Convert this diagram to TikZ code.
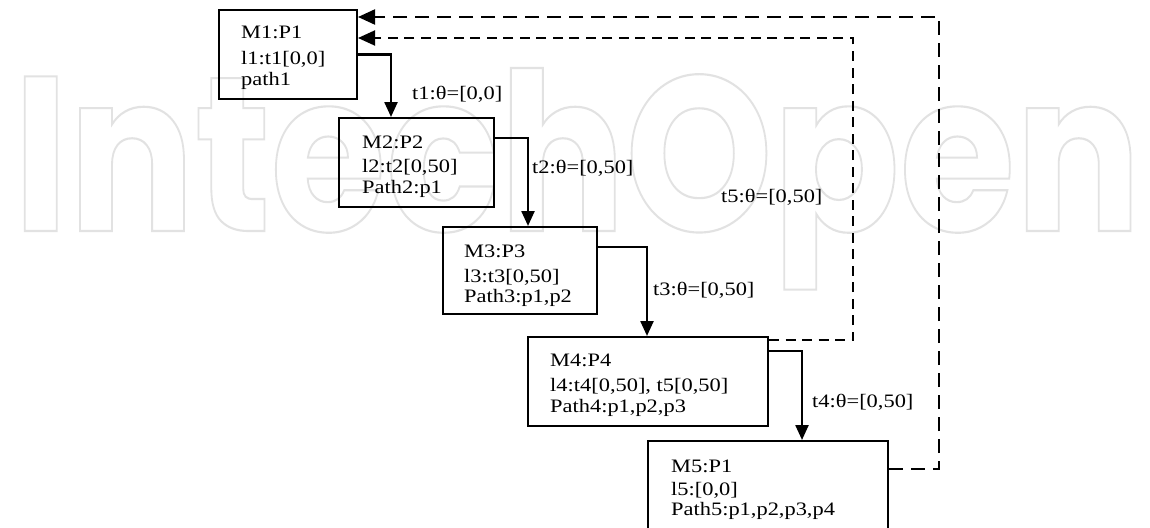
\documentclass[tikz,border=0pt]{standalone}
\usepackage{fontspec}
\setmainfont[FakeStretch=1.18]{Liberation Serif}
\newfontfamily\wmfont{Poppins}
\usetikzlibrary{arrows.meta}
\definecolor{wmgray}{HTML}{E2E2E2}
\begin{document}
\begin{tikzpicture}[x=1pt,y=-1pt,
  box/.style={draw, line width=2pt, rectangle, inner sep=0pt, anchor=north west},
  ln/.style={anchor=base west, inner sep=0pt, font=\fontsize{19}{22}\selectfont},
  conn/.style={line width=2.4pt, -{Triangle[length=15pt,width=13pt]}},
  dashouter/.style={line width=2.1pt, dash pattern=on 14pt off 8pt, -{Triangle[length=17pt,width=15pt]}},
  dashinner/.style={line width=1.9pt, dash pattern=on 10pt off 6.5pt, -{Triangle[length=17pt,width=15pt]}}]
\clip (0,0) rectangle (1150,527);
\fill[white] (0,0) rectangle (1150,527);
% watermark
\node[anchor=base west, inner sep=0pt, text=wmgray] (wm) at (13,231)
  {\resizebox{1128pt}{163pt}{\special{pdf:literal direct 1 Tr 2.2 w}\fontsize{228}{228}\wmfont\bfseries IntechOpen\special{pdf:literal direct 0 Tr}}};
% boxes
\node[box, minimum width=138pt, minimum height=89pt] (m1) at (218,9) {};
\node[box, minimum width=155pt, minimum height=89pt] (m2) at (338,117) {};
\node[box, minimum width=154pt, minimum height=87pt] (m3) at (442,226) {};
\node[box, minimum width=240pt, minimum height=89pt] (m4) at (527,336) {};
\node[box, minimum width=240pt, minimum height=100pt] (m5) at (647,440) {};
% box texts
\node[ln] (m1a) at (241,39) {M1:P1};
\node[ln] (m1b) at (241,64) {l1:t1[0,0]};
\node[ln] (m1c) at (241,85) {path1};
\node[ln] (m2a) at (362,148) {M2:P2};
\node[ln] (m2b) at (362,172) {l2:t2[0,50]};
\node[ln] (m2c) at (362,193) {Path2:p1};
\node[ln] (m3a) at (464,257) {M3:P3};
\node[ln] (m3b) at (464,282) {l3:t3[0,50]};
\node[ln] (m3c) at (464,302) {Path3:p1,p2};
\node[ln] (m4a) at (550,366) {M4:P4};
\node[ln] (m4b) at (550,391) {l4:t4[0,50], t5[0,50]};
\node[ln] (m4c) at (550,412) {Path4:p1,p2,p3};
\node[ln] (m5a) at (671,472) {M5:P1};
\node[ln] (m5b) at (671,495) {l5:[0,0]};
\node[ln] (m5c) at (671,515) {Path5:p1,p2,p3,p4};
% connectors
\draw[conn] (m1.east) -| ([xshift=53pt]m2.north west);
\draw[conn] ([yshift=-21pt]m2.north east) -| ([xshift=86pt]m3.north west);
\draw[conn] ([yshift=-21pt]m3.north east) -| ([xshift=120pt]m4.north west);
\draw[conn] ([yshift=-15pt]m4.north east) -| ([xshift=155pt]m5.north west);
\coordinate (k1) at (853,38);
\coordinate (k2) at (939,17);
\draw[dashinner] ([yshift=-4pt]m4.north east) -| (k1) -- ([yshift=-29pt]m1.north east);
\draw[dashouter] ([yshift=-29pt]m5.north east) -| (k2) -- ([yshift=-8pt]m1.north east);
% labels
\node[ln] (l1) at (412,99) {t1:θ=[0,0]};
\node[ln] (l2) at (532,173) {t2:θ=[0,50]};
\node[ln] (l3) at (653,295) {t3:θ=[0,50]};
\node[ln] (l4) at (812,407) {t4:θ=[0,50]};
\node[ln] (l5) at (721,202) {t5:θ=[0,50]};
\end{tikzpicture}
\end{document}
